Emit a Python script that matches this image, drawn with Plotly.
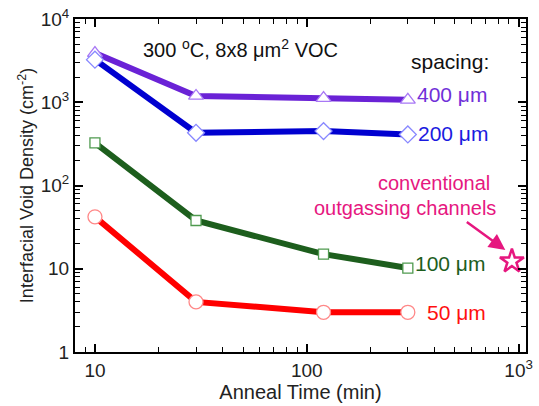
import plotly.graph_objects as go
import numpy as np

# Data
time_min = [10, 30, 120, 300]
s400 = [3900, 1190, 1120, 1070]
s200 = [3250, 430, 450, 410]
s100 = [325, 38, 15, 10.2]
s50 = [42, 4.0, 3.0, 3.0]
conv_x = [930]
conv_y = [12.3]

series = [
    ("400 μm", s400, "#6a22d6", "#a878f5", "triangle-up", 13),
    ("200 μm", s200, "#0000d0", "#8888ff", "diamond", 13),
    ("100 μm", s100, "#1d5e1d", "#4f9a4f", "square", 10),
    ("50 μm", s50, "#ff0000", "#ff8888", "circle", 14),
]

fig = go.Figure()
for name, ys, col, mcol, sym, sz in series:
    fig.add_trace(go.Scatter(x=time_min, y=ys, mode="lines", line=dict(color=col, width=6),
                             showlegend=False, hoverinfo="skip"))
for name, ys, col, mcol, sym, sz in series:
    fig.add_trace(go.Scatter(x=time_min, y=ys, mode="markers",
                             marker=dict(symbol=sym, size=sz, color="white",
                                         line=dict(color=mcol, width=1.3)),
                             showlegend=False, name=name))
fig.add_trace(go.Scatter(x=conv_x, y=conv_y, mode="markers",
                         marker=dict(symbol="star-open", size=18, color="#e6177f",
                                     line=dict(color="#e6177f", width=2.5)),
                         showlegend=False))

W, H = 539, 406
L, R, T, B = 75, 6, 19, 54
pw, ph = W - L - R, H - T - B


def px(x):
    return (x - L) / pw


def py(y):
    return (H - B - y) / ph


font = "Liberation Sans, Arial, sans-serif"
ann = [
    ("300 <sup>o</sup>C, 8x8 μm<sup>2</sup> VOC", 243, 48, "#111111", 20),
    ("spacing:", 456, 62, "#111111", 21),
    ("400 μm", 458, 95, "#7030d8", 21),
    ("200 μm", 459, 133, "#1a1ae0", 21),
    ("100 μm", 456, 263, "#1d5e1d", 21),
    ("50 μm", 462, 312, "#ff1010", 21),
    ("conventional", 440, 183, "#e6177f", 20),
    ("outgassing channels", 410, 208, "#e6177f", 20),
]
annotations = []
for t, x, y, c, s in ann:
    annotations.append(dict(text=t, x=px(x), y=py(y), xref="paper", yref="paper",
                            showarrow=False, font=dict(color=c, size=s, family=font),
                            xanchor="center", yanchor="middle"))
annotations.append(dict(x=px(512), y=py(250), ax=-40, ay=-29, xref="paper", yref="paper",
                        showarrow=True, arrowhead=2, arrowsize=1.3,
                        arrowwidth=2.5, arrowcolor="#e6177f", text=""))

minor_x = [m * 10 ** d for d in range(0, 3) for m in range(2, 10)]
minor_y = [m * 10 ** d for d in range(0, 4) for m in range(2, 10)]

axis_common = dict(type="log", showgrid=False, zeroline=False, showline=True, linecolor="black",
                   linewidth=2, mirror="allticks", ticks="inside", ticklen=8, tickwidth=1.5,
                   tickcolor="black", tickfont=dict(size=19, family=font, color="#222"))

fig.update_xaxes(**axis_common, range=[np.log10(8.05), 3.035], tickmode="array",
                 tickvals=[10, 100, 1000], ticktext=["10", "100", "10<sup>3</sup>"],
                 minor=dict(tickmode="array", tickvals=minor_x, ticks="inside", ticklen=5,
                            tickwidth=1.3, tickcolor="black"),
                 title=dict(text="Anneal Time (min)", font=dict(size=20, family=font, color="#222"),
                            standoff=2))
fig.update_yaxes(**axis_common, range=[0, 4], tickmode="array",
                 tickvals=[1, 10, 100, 1000, 10000],
                 ticktext=["1", "10", "10<sup>2</sup>", "10<sup>3</sup>", "10<sup>4</sup>"],
                 minor=dict(tickmode="array", tickvals=minor_y, ticks="inside", ticklen=5,
                            tickwidth=1.3, tickcolor="black"),
                 title=dict(text="Interfacial Void Density (cm<sup>-2</sup>)",
                            font=dict(size=18, family=font, color="#222"), standoff=2))

fig.update_layout(width=W, height=H, margin=dict(l=L, r=R, t=T, b=B),
                  paper_bgcolor="white", plot_bgcolor="white", annotations=annotations,
                  font=dict(family=font))

fig.write_html("out.html")
